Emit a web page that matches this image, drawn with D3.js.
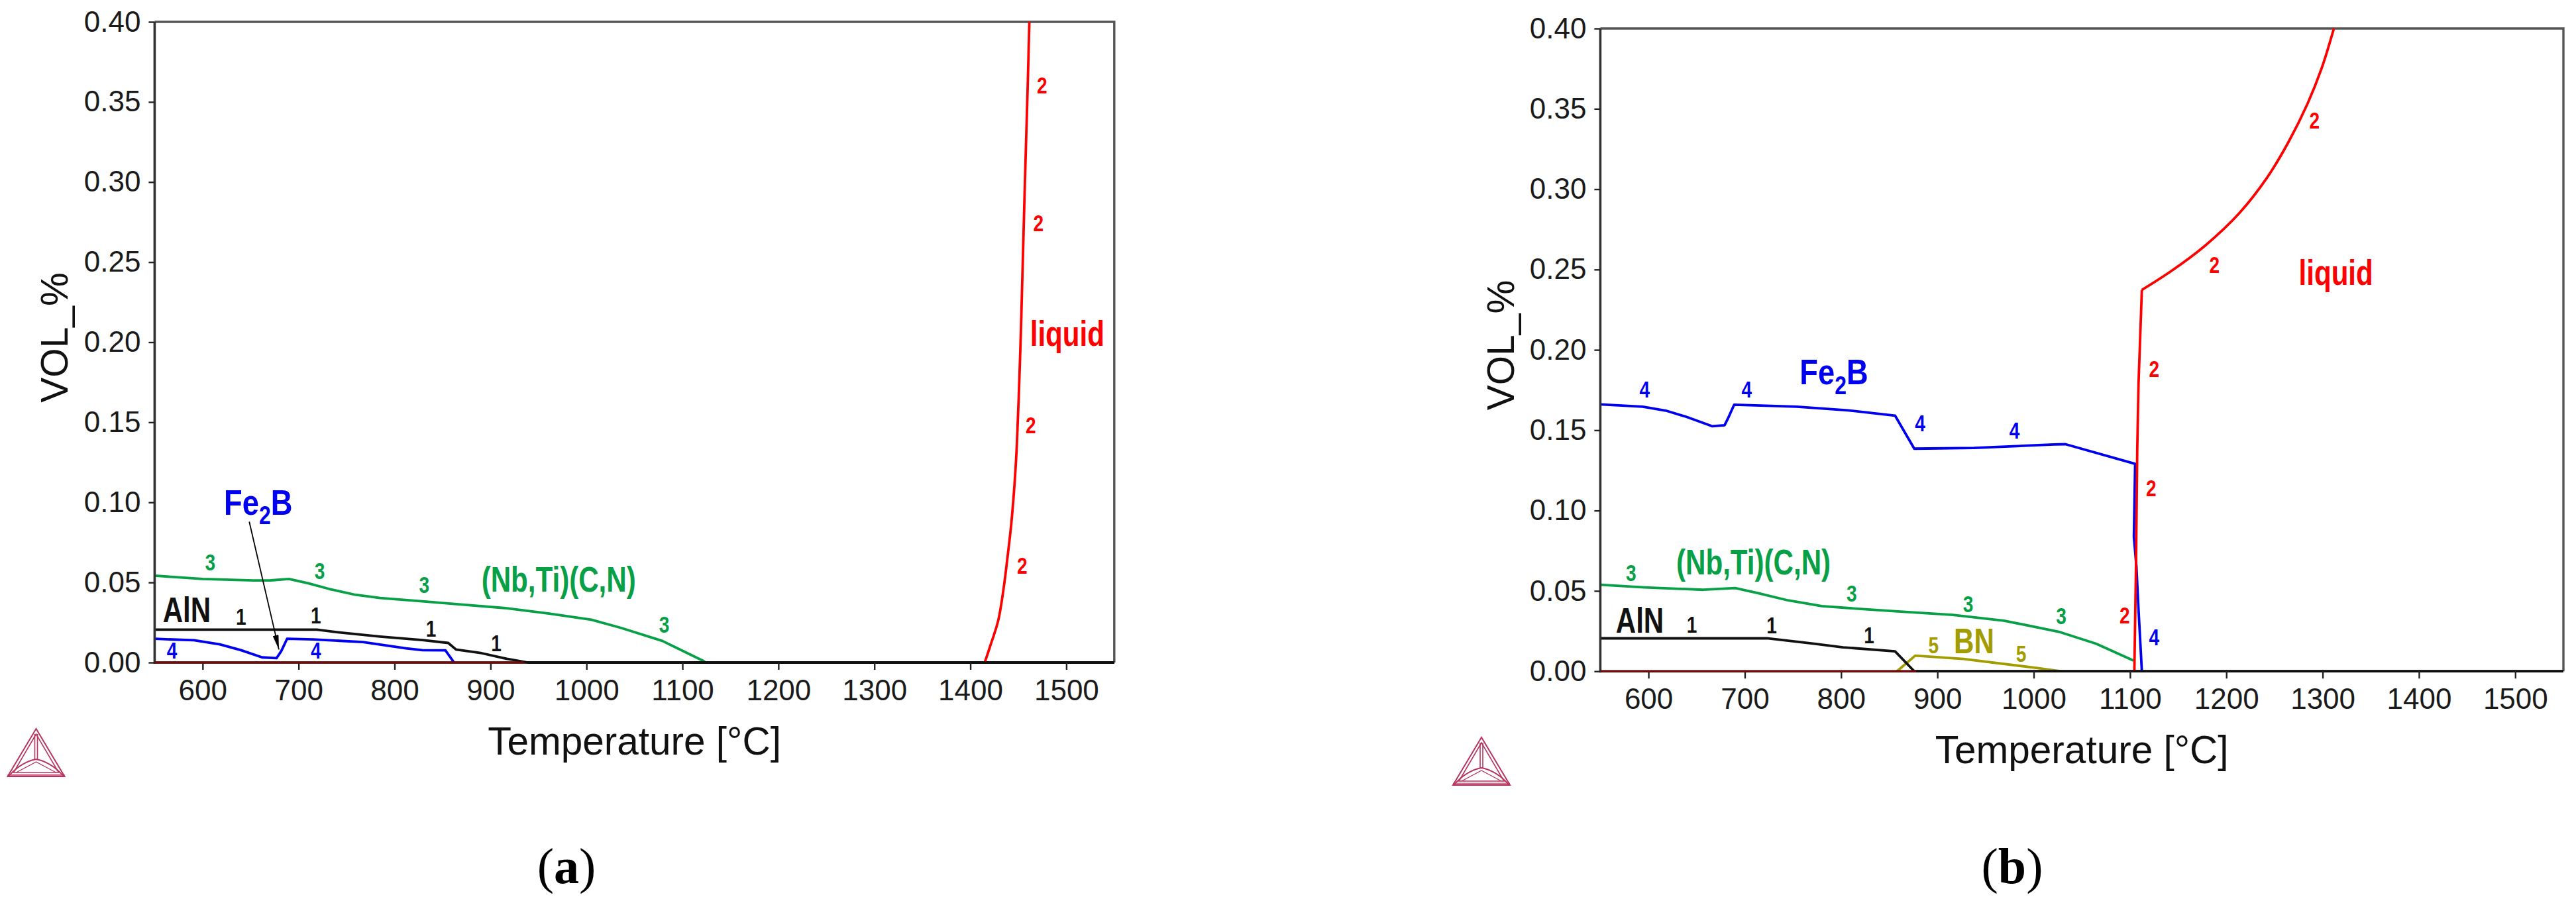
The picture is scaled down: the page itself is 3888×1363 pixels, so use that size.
<!DOCTYPE html>
<html>
<head>
<meta charset="utf-8">
<script src="https://cdn.jsdelivr.net/npm/d3@7/dist/d3.min.js"></script>
<style>
  html, body { margin: 0; padding: 0; background: #fff; }
  svg { display: block; }
  text { font-family: "Liberation Sans", Arial, sans-serif; }
  .curve { fill: none; stroke-linejoin: round; stroke-width: 3.8; }
  .lbl { font-weight: bold; text-anchor: middle; }
</style>
</head>
<body>
<div id="chart"></div>
<script>
// axis ticks, same on both panels
var tempTicks = [600, 700, 800, 900, 1000, 1100, 1200, 1300, 1400, 1500];
var volTicks = [0, 0.05, 0.10, 0.15, 0.20, 0.25, 0.30, 0.35, 0.40];

// panel (a) curves, [temperature, vol %]
var aGreen = [[550,.0542],[600,.0522],[653,.0512],[671,.0513],[690,.0522],[710,.0495],[732,.0459],[759,.0423],[785,.0403],[829,.0382],[873,.036],[917,.0339],[961,.0306],[1005,.0267],[1036,.0216],[1079,.0135],[1122,.0009],[1124,0]];
var aBlack = [[550,.0205],[719,.0205],[741,.0189],[785,.0162],[829,.014],[856,.0122],[864,.0081],[891,.0058],[917,.0023],[939,0],[1550,0]];
var aBlue = [[550,.0148],[591,.0139],[618,.0113],[640,.0077],[662,.0032],[677,.0027],[682,.0072],[688,.0148],[715,.0144],[767,.0128],[812,.0088],[829,.0077],[853,.0076],[862,0]];
var aRed = [[1415,0],[1420.5,.0099],[1429,.0261],[1435,.0477],[1438.4,.064],[1442.8,.0874],[1446.4,.1144],[1448.4,.135],[1450.4,.165],[1452.6,.205],[1454.5,.2469],[1457,.3024],[1459.7,.358],[1461.5,.4]];
var aMaroon = [[550,0],[935,0]];

// panel (b) curves
var bGreen = [[550,.0538],[596,.0522],[657,.0507],[690,.0518],[714,.0486],[745,.0441],[780,.0405],[815,.039],[859,.0372],[916,.0351],[969,.0315],[1026,.0246],[1065,.0171],[1103.5,.0067]];
var bBlack = [[550,.0205],[723,.0205],[772,.0171],[802,.0149],[856,.0124],[876,0],[1550,0]];
var bBlue = [[550,.1661],[594,.1646],[618,.1622],[640,.1582],[666,.1525],[679,.1531],[682.5,.1573],[689,.1659],[754,.1646],[807,.1624],[856,.1591],[876,.1385],[938,.139],[1021,.1411],[1033,.1413],[1105.3,.1291],[1104,.0836],[1106.6,.0656],[1108.8,.0387],[1112.3,0]];
var bOlive = [[858,0],[877,.0097],[927,.0077],[1000,.0023],[1028,0]];
var bRedStem = [[1104.5,0],[1106.2,.0656],[1107.5,.1376],[1108.8,.1784],[1112.3,.2373]];
var bRedArc = [[1112.3,.2373],[1143.4,.2493],[1178,.2649],[1213.6,.2852],[1242.3,.3072],[1264.5,.3293],[1284.4,.3533],[1299,.3753],[1311.7,.4]];
var bMaroon = [[550,0],[878,0]];

// curve labels, [temperature, vol %, text]
var aGreenLabels = [[608,.0576,"3"],[722,.0522,"3"],[831,.0436,"3"],[1081,.0186,"3"]];
var aBlackLabels = [[640,.0234,"1"],[718,.0243,"1"],[838,.0162,"1"],[906,.0072,"1"]];
var aBlueLabels = [[568,.0023,"4"],[718,.0023,"4"]];
var aRedLabels = [[1474.7,.3552,"2"],[1471,.2691,"2"],[1463,.1431,"2"],[1454,.0555,"2"]];
var bGreenLabels = [[582,.0563,"3"],[811,.0435,"3"],[932,.0369,"3"],[1028.6,.0293,"3"]];
var bBlackLabels = [[645,.0239,"1"],[728,.0234,"1"],[829,.0174,"1"]];
var bBlueLabels = [[596,.1702,"4"],[702,.1702,"4"],[882,.1494,"4"],[980,.145,"4"],[1125,.0162,"4"]];
var bRedLabels = [[1122,.1088,"2"],[1094.5,.0297,"2"],[1125,.183,"2"],[1187.6,.248,"2"],[1291.5,.3376,"2"]];
var bOliveLabels = [[896,.0113,"5"],[987,.0058,"5"]];

// phase names, [temperature, vol %]
var aPhases = { nb: [971,.0441], aln: [583.5,.0252], fe: [658,.0924], liquid: [1501,.1978] };
var bPhases = { nb: [709,.0603], aln: [591,.0239], fe: [792.6,.1784], liquid: [1313.8,.2406], bn: [938,.0112] };
var aArrow = [[648.6,.0879],[679.5,.0081]];

var GREEN = "#07a046", BLUE = "#0000f0", RED = "#ff0000", OLIVE = "#a29c00", MAROON = "#7a0a0a";
var LOGO = "#b8355f";
var NARROW = 0.78;   // the original labels are a condensed bold face

var svg = d3.select("#chart").append("svg")
    .attr("width", 3888)
    .attr("height", 1363);

svg.append("defs").append("marker")
    .attr("id", "head")
    .attr("viewBox", "0 0 10 10")
    .attr("refX", 10).attr("refY", 5)
    .attr("markerWidth", 22).attr("markerHeight", 9)
    .attr("markerUnits", "userSpaceOnUse")
    .attr("orient", "auto")
    .attr("preserveAspectRatio", "none")
  .append("path")
    .attr("d", "M0,0L10,5L0,10Z")
    .attr("fill", "#000");

function drawPanel(frame)
{
    var x = d3.scaleLinear().domain([550, 1550]).range([frame.left, frame.right]);
    var y = d3.scaleLinear().domain([0, 0.40]).range([frame.bottom, frame.top]);
    var line = d3.line().x(function(d) { return x(d[0]); }).y(function(d) { return y(d[1]); });
    var g = svg.append("g");

    // frame, top and right are greyer than the axes
    g.append("path").attr("fill", "none").attr("stroke", "#555").attr("stroke-width", 3.4)
        .attr("d", "M" + frame.left + "," + frame.top + "H" + frame.right + "V" + frame.bottom);

    frame.curves.forEach(function(c) {
        line.curve(c.smooth ? d3.curveCatmullRom.alpha(0.5) : d3.curveLinear);
        g.append("path").attr("class", "curve").attr("stroke", c.color).attr("d", line(c.data));
    });
    line.curve(d3.curveLinear);

    var xAxis = g.append("g")
        .attr("transform", "translate(0," + frame.bottom + ")")
        .call(d3.axisBottom(x).tickValues(tempTicks).tickFormat(d3.format("d")).tickSize(11).tickPadding(15));
    var yAxis = g.append("g")
        .attr("transform", "translate(" + frame.left + ",0)")
        .call(d3.axisLeft(y).tickValues(volTicks).tickFormat(d3.format(".2f")).tickSize(9).tickPadding(12));

    xAxis.select(".domain").attr("stroke", "#111").attr("stroke-width", 3.6).attr("d", "M" + frame.left + ",0H" + frame.right);
    yAxis.select(".domain").attr("stroke", "#333").attr("stroke-width", 3.6).attr("d", "M0," + frame.top + "V" + (frame.bottom + 2));
    xAxis.selectAll(".tick line").attr("stroke", "#222").attr("stroke-width", 2.4);
    yAxis.selectAll(".tick line").attr("stroke", "#222").attr("stroke-width", 2.4);
    g.selectAll(".tick text").attr("font-size", 44).attr("fill", "#1a1a1a").attr("font-family", '"Liberation Sans"');

    // maroon baseline goes over the axis
    g.append("path").attr("class", "curve").attr("stroke", MAROON).style("stroke-width", 3).attr("d", line(frame.maroon));

    g.append("text").attr("text-anchor", "middle").attr("font-size", 58.5).attr("fill", "#111")
        .attr("x", (frame.left + frame.right) / 2).attr("y", frame.bottom + 139)
        .text("Temperature [°C]");
    g.append("text").attr("text-anchor", "middle").attr("font-size", 57).attr("fill", "#111")
        .attr("transform", "translate(" + frame.volX + "," + ((frame.top + frame.bottom) / 2 - 7) + ") rotate(-90)")
        .text("VOL_%");

    frame.labels.forEach(function(l) {
        g.selectAll(null).data(l.data).enter().append("text")
            .attr("class", "lbl")
            .attr("font-size", 36)
            .attr("fill", l.color)
            .attr("transform", function(d) { return "translate(" + x(d[0]) + "," + y(d[1]) + ") scale(" + NARROW + ",1)"; })
            .text(function(d) { return d[2]; });
    });

    function phase(p, color, txt, sx) {
        return g.append("text").attr("class", "lbl").attr("font-size", 54).attr("fill", color)
            .attr("transform", "translate(" + x(p[0]) + "," + y(p[1]) + ") scale(" + (sx || NARROW) + ",1)").text(txt);
    }
    phase(frame.phases.nb, GREEN, "(Nb,Ti)(C,N)");
    phase(frame.phases.aln, "#111", "AlN");
    phase(frame.phases.liquid, RED, "liquid");
    if (frame.phases.bn) phase(frame.phases.bn, OLIVE, "BN");
    var fe = phase(frame.phases.fe, BLUE, "Fe", 0.84);
    fe.append("tspan").attr("font-size", 38).attr("dy", 14).text("2");
    fe.append("tspan").attr("dy", -14).text("B");

    if (frame.arrow) {
        g.append("path").attr("fill", "none").attr("stroke", "#000").attr("stroke-width", 1.8)
            .attr("marker-end", "url(#head)").attr("d", line(frame.arrow));
    }

    drawLogo(frame.logoX, frame.logoY);
    g.append("text").attr("text-anchor", "middle").attr("font-size", 76).attr("fill", "#000")
        .style("font-family", '"Liberation Serif", serif')
        .attr("x", frame.capX).attr("y", 1333)
        .html('(<tspan font-weight="bold">' + frame.caption + '</tspan>)');
}

// Thermo-Calc triangle, local box 86 wide and 72 tall from the apex
function drawLogo(cx, top)
{
    var g = svg.append("g").attr("transform", "translate(" + cx + "," + top + ")")
        .attr("fill", "none").attr("stroke", LOGO);
    g.append("path").attr("stroke-width", 2).attr("d", "M0,0L-43,72H43Z");
    g.append("path").attr("stroke-width", 1.6).attr("d", "M0,8L-34,66H34Z");
    g.append("path").attr("stroke-width", 1.6).attr("d", "M-2,8V47M2,8V47");
    g.append("path").attr("stroke-width", 1.8).attr("d", "M-41,71Q-22,50 0,46Q22,50 41,71");
    g.append("path").attr("stroke-width", 1.4).attr("d", "M-30,66L0,50L30,66");
    g.append("path").attr("stroke-width", 3).attr("stroke-opacity", 0.7).attr("d", "M-43,70H43");
}

drawPanel({
    left: 233.4, right: 1681.8, top: 33, bottom: 1000, volX: 102,
    curves: [
        { data: aGreen, color: GREEN },
        { data: aBlack, color: "#111" },
        { data: aBlue, color: BLUE },
        { data: aRed, color: RED, smooth: true }
    ],
    maroon: aMaroon,
    labels: [
        { data: aGreenLabels, color: GREEN }, { data: aBlackLabels, color: "#111" },
        { data: aBlueLabels, color: BLUE }, { data: aRedLabels, color: RED }
    ],
    phases: aPhases, arrow: aArrow,
    logoX: 54.5, logoY: 1100, capX: 855, caption: "a"
});

drawPanel({
    left: 2415.4, right: 3869, top: 43, bottom: 1013.2, volX: 2285,
    curves: [
        { data: bOlive, color: OLIVE },
        { data: bGreen, color: GREEN },
        { data: bBlack, color: "#111" },
        { data: bBlue, color: BLUE },
        { data: bRedStem, color: RED },
        { data: bRedArc, color: RED, smooth: true }
    ],
    maroon: bMaroon,
    labels: [
        { data: bGreenLabels, color: GREEN }, { data: bBlackLabels, color: "#111" },
        { data: bBlueLabels, color: BLUE }, { data: bRedLabels, color: RED },
        { data: bOliveLabels, color: OLIVE }
    ],
    phases: bPhases, arrow: null,
    logoX: 2236, logoY: 1113, capX: 3037, caption: "b"
});
</script>
</body>
</html>
